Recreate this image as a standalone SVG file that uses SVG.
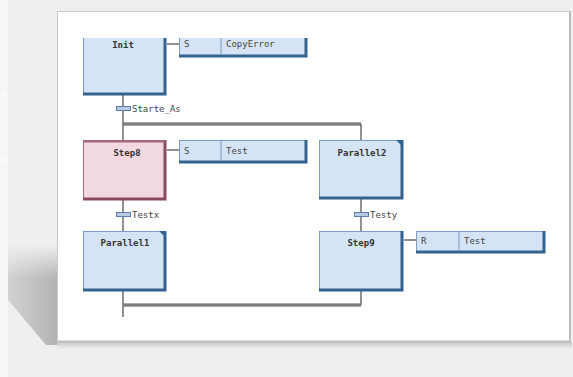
<svg xmlns="http://www.w3.org/2000/svg" width="573" height="377" viewBox="0 0 573 377">
<defs>
<style>
.step{fill:#d4e4f4;stroke:#7d9cc4;stroke-width:1}
.stepA{fill:#f2d8e0;stroke:#a06a7a;stroke-width:1}
.edge{stroke:#34618f;stroke-width:3;fill:none}
.edgeA{stroke:#8a4a5c;stroke-width:3;fill:none}
.act{fill:#d4e4f4;stroke:#7d9cc4;stroke-width:1}
.line{stroke:#555;stroke-width:1.3;fill:none}
.dbl{stroke:#555;stroke-width:3;fill:none}
.dblin{stroke:#aaa;stroke-width:1;fill:none}
.lbl{font-family:"DejaVu Sans Mono",monospace;font-weight:bold;font-size:9px;fill:#333;text-anchor:middle}
.txt{font-family:"DejaVu Sans Mono",monospace;font-size:9px;fill:#444}
.tr{fill:#b8cbe4;stroke:#5f7fab;stroke-width:1}
.side{font-family:"Liberation Sans",sans-serif;font-size:9px;fill:#ffffff}
</style>
<linearGradient id="sh" x1="1" y1="0" x2="0" y2="0">
<stop offset="0" stop-color="#b3b3b3"/>
<stop offset="1" stop-color="#d2d2d2"/>
</linearGradient>
<linearGradient id="fade" x1="0" y1="0" x2="0" y2="1">
<stop offset="0" stop-color="#000"/>
<stop offset="0.3" stop-color="#fff"/>
<stop offset="1" stop-color="#fff"/>
</linearGradient>
<mask id="shm"><rect x="0" y="245" width="60" height="110" fill="url(#fade)"/></mask>
<linearGradient id="shb" x1="0" y1="0" x2="0" y2="1">
<stop offset="0" stop-color="#c4c4c4"/>
<stop offset="1" stop-color="#efefef"/>
</linearGradient>
<clipPath id="cl"><rect x="58" y="38" width="510" height="279"/></clipPath>
</defs>
<rect x="0" y="0" width="573" height="377" fill="#efefef"/>
<rect x="0" y="0" width="8" height="377" fill="#f6f6f6"/>
<text class="side" x="1" y="98">A</text>
<text class="side" x="1" y="164">B</text>
<polygon points="57,245 57,345 46,345 8,300 8,245" fill="url(#sh)" mask="url(#shm)"/>
<rect x="57" y="342" width="515" height="7" fill="url(#shb)"/>
<rect x="57.5" y="11.5" width="513" height="331" fill="#ffffff" stroke="#c8c8c8"/>
<line x1="570" y1="12" x2="570" y2="342" stroke="#bdbdbd" stroke-width="2"/>
<line x1="58" y1="341.5" x2="570" y2="341.5" stroke="#bdbdbd" stroke-width="2"/>
<g clip-path="url(#cl)">
<g id="connectors">
<line class="line" x1="123" y1="95" x2="123" y2="140"/>
<line class="dbl" x1="123" y1="124" x2="361" y2="124"/>
<line class="dblin" x1="123" y1="124" x2="361" y2="124"/>
<line class="line" x1="361" y1="124" x2="361" y2="140"/>
<line class="line" x1="123" y1="200" x2="123" y2="231"/>
<line class="line" x1="361" y1="199" x2="361" y2="231"/>
<line class="line" x1="123" y1="291" x2="123" y2="317"/>
<line class="line" x1="361" y1="291" x2="361" y2="305"/>
<line class="dbl" x1="123" y1="305" x2="361" y2="305"/>
<line class="dblin" x1="123" y1="305" x2="361" y2="305"/>
<line class="line" x1="167" y1="44" x2="179" y2="44"/>
<line class="line" x1="167" y1="150" x2="179" y2="150"/>
<line class="line" x1="404" y1="240" x2="416" y2="240"/>
</g>
<g id="init">
<rect class="step" x="83.5" y="30.5" width="82" height="63"/>
<polyline class="edge" points="165,30 165,94 83,94"/>
<text class="lbl" x="123" y="48">Init</text>
</g>
<g id="init-action">
<rect class="act" x="179.5" y="30.5" width="126" height="25"/>
<polyline class="edge" points="306,30 306,56 179,56"/>
<line x1="221" y1="31" x2="221" y2="55" stroke="#7d9cc4"/>
<text class="txt" x="184" y="47">S</text>
<text class="txt" x="226" y="47">CopyError</text>
</g>
<g id="t-starte">
<rect class="tr" x="116.5" y="106.5" width="14" height="4"/>
<text class="txt" x="132" y="112">Starte_As</text>
</g>
<g id="step8">
<rect class="stepA" x="83.5" y="140.5" width="82" height="58"/>
<polyline class="edgeA" points="165,140 165,199 83,199"/>
<line x1="84" y1="141.5" x2="165" y2="141.5" stroke="#a06a7a" stroke-width="2"/>
<text class="lbl" x="127" y="156">Step8</text>
</g>
<g id="step8-action">
<rect class="act" x="179.5" y="140.5" width="126" height="21"/>
<polyline class="edge" points="306,140 306,162 179,162"/>
<line x1="221" y1="141" x2="221" y2="161" stroke="#7d9cc4"/>
<text class="txt" x="184" y="154">S</text>
<text class="txt" x="226" y="154">Test</text>
</g>
<g id="t-testx">
<rect class="tr" x="116.5" y="212.5" width="14" height="4"/>
<text class="txt" x="132" y="218">Testx</text>
</g>
<g id="parallel1">
<rect class="step" x="83.5" y="231.5" width="82" height="58"/>
<polyline class="edge" points="165,231 165,290 83,290"/>
<polygon points="159,231 166,231 166,238" fill="#34618f"/>
<text class="lbl" x="125" y="246">Parallel1</text>
</g>
<g id="parallel2">
<rect class="step" x="319.5" y="140.5" width="83" height="57"/>
<polyline class="edge" points="402,140 402,198 319,198"/>
<polygon points="396,140 403,140 403,147" fill="#34618f"/>
<text class="lbl" x="362" y="156">Parallel2</text>
</g>
<g id="t-testy">
<rect class="tr" x="354.5" y="212.5" width="14" height="4"/>
<text class="txt" x="370" y="218">Testy</text>
</g>
<g id="step9">
<rect class="step" x="319.5" y="231.5" width="83" height="58"/>
<polyline class="edge" points="402,231 402,290 319,290"/>
<text class="lbl" x="361" y="246">Step9</text>
</g>
<g id="step9-action">
<rect class="act" x="416.5" y="231.5" width="127" height="20"/>
<polyline class="edge" points="544,231 544,252 416,252"/>
<line x1="459" y1="232" x2="459" y2="251" stroke="#7d9cc4"/>
<text class="txt" x="421" y="244">R</text>
<text class="txt" x="464" y="244">Test</text>
</g>
</g>
</svg>
